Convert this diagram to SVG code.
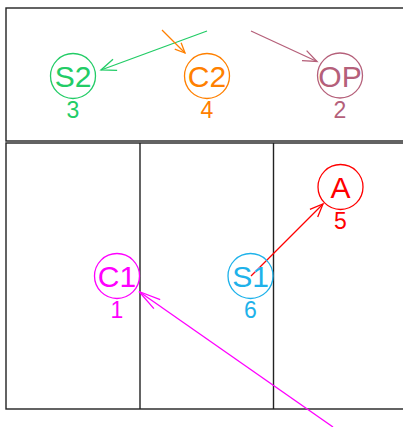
<svg xmlns="http://www.w3.org/2000/svg" width="403" height="427" viewBox="0 0 403 427">
<style>
.frame{fill:none;stroke:#222;stroke-width:1.4}
.node{fill:none;stroke-width:1.3}
.lbl{font-family:"Liberation Sans",Arial,sans-serif;font-size:30px;text-anchor:middle}
.num{font-family:"Liberation Sans",Arial,sans-serif;font-size:23px;text-anchor:middle}
.edge{fill:none;stroke-width:1.3}
</style>
<defs>
<marker id="m-green" markerUnits="userSpaceOnUse" orient="auto" overflow="visible" markerWidth="1" markerHeight="1"><path d="M-15,-6 L0,0 L-15,6" fill="none" stroke="#22CC66" stroke-width="1.3"/></marker>
<marker id="m-orange" markerUnits="userSpaceOnUse" orient="auto" overflow="visible" markerWidth="1" markerHeight="1"><path d="M-10,-4.5 L0,0 L-10,4.5" fill="none" stroke="#FF8000" stroke-width="1.3"/></marker>
<marker id="m-rose" markerUnits="userSpaceOnUse" orient="auto" overflow="visible" markerWidth="1" markerHeight="1"><path d="M-14,-5.5 L0,0 L-14,5.5" fill="none" stroke="#B5607A" stroke-width="1.3"/></marker>
<marker id="m-red" markerUnits="userSpaceOnUse" orient="auto" overflow="visible" markerWidth="1" markerHeight="1"><path d="M-13,-5.5 L0,0 L-13,5.5" fill="none" stroke="#FF0000" stroke-width="1.3"/></marker>
<marker id="m-mag" markerUnits="userSpaceOnUse" orient="auto" overflow="visible" markerWidth="1" markerHeight="1"><path d="M-22,-5.5 L0,0 L-22,5.5" fill="none" stroke="#FF00FF" stroke-width="1.3"/></marker>
</defs>
<g id="frames">
<rect class="frame" x="6" y="8" width="410" height="133"/>
<rect class="frame" x="6" y="143" width="410" height="266"/>
<line class="frame" x1="140" y1="143" x2="140" y2="409"/>
<line class="frame" x1="273.5" y1="143" x2="273.5" y2="409"/>
</g>
<g id="connectors">
<line class="edge" stroke="#22CC66" x1="207" y1="31" x2="101" y2="70" marker-end="url(#m-green)"/>
<line class="edge" stroke="#FF8000" x1="162" y1="30" x2="185" y2="53" marker-end="url(#m-orange)"/>
<line class="edge" stroke="#B5607A" x1="251" y1="31" x2="317" y2="61.5" marker-end="url(#m-rose)"/>
<line class="edge" stroke="#FF0000" x1="251" y1="276" x2="323" y2="204" marker-end="url(#m-red)"/>
<line class="edge" stroke="#FF00FF" x1="333" y1="427" x2="139" y2="291.5" marker-end="url(#m-mag)"/>
</g>
<g id="S2">
<circle class="node" stroke="#22CC66" cx="73" cy="76" r="22.5"/>
<text class="lbl" fill="#22CC66" x="73" y="87">S2</text>
<text class="num" fill="#22CC66" x="73" y="117.5">3</text>
</g>
<g id="C2">
<circle class="node" stroke="#FF8000" cx="207" cy="76" r="22.5"/>
<text class="lbl" fill="#FF8000" x="207" y="87">C2</text>
<text class="num" fill="#FF8000" x="207" y="117.5">4</text>
</g>
<g id="OP">
<circle class="node" stroke="#B5607A" cx="340" cy="75.5" r="22.5"/>
<text class="lbl" fill="#B5607A" x="340" y="86.5">OP</text>
<text class="num" fill="#B5607A" x="340" y="117.5">2</text>
</g>
<g id="A">
<circle class="node" stroke="#FF0000" cx="340.5" cy="187" r="22.5"/>
<text class="lbl" fill="#FF0000" x="340.5" y="198">A</text>
<text class="num" fill="#FF0000" x="340.5" y="228.5">5</text>
</g>
<g id="C1">
<circle class="node" stroke="#FF00FF" cx="117" cy="276" r="22.5"/>
<text class="lbl" fill="#FF00FF" x="117" y="287">C1</text>
<text class="num" fill="#FF00FF" x="117" y="317.5">1</text>
</g>
<g id="S1">
<circle class="node" stroke="#1EB2EA" cx="250.5" cy="276" r="22.5"/>
<text class="lbl" fill="#1EB2EA" x="250.5" y="287">S1</text>
<text class="num" fill="#1EB2EA" x="250.5" y="317.5">6</text>
</g>
</svg>
